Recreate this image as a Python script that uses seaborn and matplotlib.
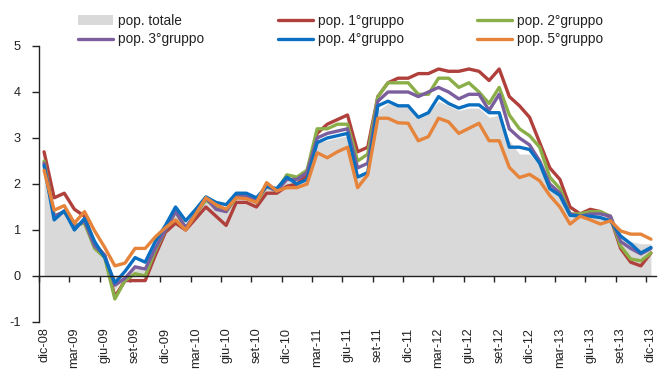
import matplotlib
matplotlib.use("Agg")
import matplotlib.pyplot as plt
import numpy as np
import pandas as pd
import seaborn as sns
from matplotlib.patches import Patch
from matplotlib.lines import Line2D

# Monthly categories dic-08 .. dic-13
mesi = ["gen", "feb", "mar", "apr", "mag", "giu", "lug", "ago", "set", "ott", "nov", "dic"]
periodi = ["dic-08"] + [f"{m}-{a:02d}" for a in range(9, 14) for m in mesi]

tick_labels = ["dic-08", "mar-09", "giu-09", "set-09", "dic-09", "mar-10", "giu-10",
               "set-10", "dic-10", "mar-11", "giu-11", "set-11", "dic-11", "mar-12",
               "giu-12", "set-12", "dic-12", "mar-13", "giu-13", "set-13", "dic-13"]

pop_totale = [2.5, 1.3, 1.4, 1.05, 1.2, 0.7, 0.45, -0.3, 0.0, 0.2, 0.1, 0.6, 1.0,
              1.4, 1.1, 1.35, 1.65, 1.5, 1.45, 1.75, 1.7, 1.6, 1.95, 1.85, 2.1,
              2.05, 2.2, 2.9, 2.95, 3.0, 3.05, 2.1, 2.3, 3.6, 3.75, 3.7, 3.7,
              3.45, 3.55, 3.8, 3.7, 3.6, 3.65, 3.65, 3.45, 3.5, 2.95, 2.65, 2.65,
              2.4, 1.9, 1.75, 1.3, 1.3, 1.3, 1.3, 1.25, 0.85, 0.75, 0.7, 0.7]

gruppo_1 = [2.7, 1.7, 1.8, 1.45, 1.3, 0.7, 0.45, -0.45, -0.1, -0.1, -0.1, 0.45, 0.95,
            1.15, 1.0, 1.25, 1.5, 1.3, 1.1, 1.6, 1.6, 1.5, 1.8, 1.8, 1.95,
            2.0, 2.2, 3.1, 3.3, 3.4, 3.5, 2.7, 2.8, 3.9, 4.2, 4.3, 4.3,
            4.4, 4.4, 4.5, 4.45, 4.45, 4.5, 4.45, 4.25, 4.5, 3.9, 3.7, 3.45,
            2.9, 2.35, 2.1, 1.5, 1.35, 1.45, 1.4, 1.27, 0.6, 0.3, 0.22, 0.5]

gruppo_2 = [2.5, 1.3, 1.4, 1.1, 1.15, 0.6, 0.4, -0.5, -0.1, 0.05, 0.0, 0.55, 1.0,
            1.4, 1.05, 1.35, 1.65, 1.5, 1.4, 1.7, 1.75, 1.6, 1.95, 1.85, 2.2,
            2.15, 2.3, 3.2, 3.2, 3.3, 3.3, 2.5, 2.65, 3.9, 4.2, 4.2, 4.2,
            3.95, 3.95, 4.3, 4.3, 4.1, 4.2, 4.0, 3.75, 4.1, 3.5, 3.2, 3.05,
            2.8, 2.15, 1.9, 1.35, 1.35, 1.4, 1.4, 1.3, 0.65, 0.37, 0.33, 0.5]

gruppo_3 = [2.45, 1.3, 1.4, 1.05, 1.2, 0.65, 0.45, -0.2, -0.05, 0.2, 0.15, 0.6, 1.0,
            1.4, 1.05, 1.35, 1.7, 1.45, 1.4, 1.75, 1.75, 1.65, 1.95, 1.85, 2.1,
            2.1, 2.25, 3.0, 3.1, 3.15, 3.2, 2.35, 2.45, 3.8, 4.0, 4.0, 4.0,
            3.9, 4.0, 4.1, 4.0, 3.85, 3.95, 3.95, 3.6, 3.95, 3.2, 3.0, 2.85,
            2.5, 2.0, 1.8, 1.35, 1.3, 1.35, 1.35, 1.3, 0.75, 0.6, 0.48, 0.6]

gruppo_4 = [2.4, 1.22, 1.42, 1.0, 1.25, 0.75, 0.4, -0.15, 0.1, 0.4, 0.3, 0.75, 1.1,
            1.5, 1.2, 1.45, 1.72, 1.6, 1.55, 1.8, 1.8, 1.7, 1.95, 1.9, 2.15,
            2.0, 2.1, 2.9, 3.0, 3.05, 3.1, 2.15, 2.25, 3.7, 3.8, 3.7, 3.7,
            3.45, 3.55, 3.9, 3.75, 3.65, 3.72, 3.72, 3.55, 3.55, 2.8, 2.8, 2.75,
            2.45, 1.9, 1.75, 1.32, 1.3, 1.3, 1.27, 1.2, 0.87, 0.7, 0.5, 0.62]

gruppo_5 = [2.3, 1.43, 1.53, 1.15, 1.4, 0.98, 0.62, 0.22, 0.28, 0.6, 0.6, 0.85, 1.05,
            1.22, 1.0, 1.35, 1.7, 1.55, 1.45, 1.7, 1.68, 1.6, 2.03, 1.85, 1.92,
            1.92, 2.0, 2.68, 2.57, 2.7, 2.8, 1.92, 2.2, 3.43, 3.43, 3.33, 3.32,
            2.94, 3.03, 3.43, 3.35, 3.1, 3.21, 3.32, 2.94, 2.94, 2.36, 2.14, 2.21,
            2.07, 1.75, 1.5, 1.13, 1.3, 1.22, 1.13, 1.2, 0.98, 0.91, 0.91, 0.8]

serie = {
    "pop. 1°gruppo": gruppo_1,
    "pop. 2°gruppo": gruppo_2,
    "pop. 3°gruppo": gruppo_3,
    "pop. 4°gruppo": gruppo_4,
    "pop. 5°gruppo": gruppo_5,
}
colori = {
    "pop. 1°gruppo": "#B0403C",
    "pop. 2°gruppo": "#8BAF48",
    "pop. 3°gruppo": "#7B5E9E",
    "pop. 4°gruppo": "#0A6FC0",
    "pop. 5°gruppo": "#E5843A",
}
colore_totale = "#D9D9D9"

sns.set_theme(style="white")
plt.rcParams["font.family"] = ["Liberation Sans", "DejaVu Sans"]
plt.rcParams["axes.unicode_minus"] = False

x = np.arange(len(periodi))
df = pd.DataFrame(
    [(i, nome, v) for nome, vals in serie.items() for i, v in enumerate(vals)],
    columns=["t", "gruppo", "valore"],
)

fig = plt.figure(figsize=(6.58, 3.70), dpi=100)
ax = fig.add_axes([39 / 658, 1 - 322 / 370, (656 - 39) / 658, (322 - 46) / 370])

ax.fill_between(x, pop_totale, 0, color=colore_totale, lw=0, zorder=1)
sns.lineplot(data=df, x="t", y="valore", hue="gruppo", hue_order=list(serie),
             palette=colori, linewidth=2.4, legend=False, ax=ax, zorder=3)

ax.set_xlim(-0.5, len(periodi) - 0.5)
ax.set_ylim(-1, 5)
ax.set_xlabel("")
ax.set_ylabel("")

# y axis
for s in ["top", "right"]:
    ax.spines[s].set_visible(False)
ax.spines["left"].set_color("#222222")
ax.spines["left"].set_linewidth(1.0)
ax.set_yticks(range(-1, 6))
ax.set_yticklabels([str(v) for v in range(-1, 6)])
ax.tick_params(axis="y", which="major", direction="out", length=5, width=1,
               color="#222222", pad=8, labelsize=9.2, labelcolor="#222222", left=True)

# category axis drawn through zero, tick marks between categories
ax.spines["bottom"].set_position(("data", 0))
ax.spines["bottom"].set_color("#222222")
ax.spines["bottom"].set_linewidth(1.0)
ax.spines["bottom"].set_zorder(4)
ax.set_xticks(np.arange(0, len(periodi), 3))
ax.set_xticks(np.arange(-0.5, len(periodi) - 1, 3), minor=True)
ax.tick_params(axis="x", which="major", length=0, labelbottom=False)
ax.tick_params(axis="x", which="minor", direction="out", length=4, width=1,
               color="#222222", bottom=True)

# period labels along the bottom edge
sec = ax.secondary_xaxis("bottom")
sec.set_xticks(np.arange(0, len(periodi), 3))
sec.set_xticklabels(tick_labels, rotation=90)
sec.tick_params(length=0, pad=4, labelsize=9.2, labelcolor="#222222")
sec.spines["bottom"].set_visible(False)

# legend laid out row by row
handles = {
    "pop. totale": Patch(facecolor=colore_totale, edgecolor="none"),
}
for nome, c in colori.items():
    handles[nome] = Line2D([0], [0], color=c, lw=2.4)
ordine = ["pop. totale", "pop. 3°gruppo", "pop. 1°gruppo",
          "pop. 4°gruppo", "pop. 2°gruppo", "pop. 5°gruppo"]
fig.legend([handles[k] for k in ordine], ordine, ncol=3, frameon=False,
           loc="upper left", bbox_to_anchor=(78 / 658, 1 - 14 / 370),
           borderpad=0, borderaxespad=0, fontsize=9.8, handlelength=2.57,
           handletextpad=0.37, columnspacing=5.4, labelspacing=0.32,
           labelcolor="#222222")

fig.savefig("out.png", dpi=100)
